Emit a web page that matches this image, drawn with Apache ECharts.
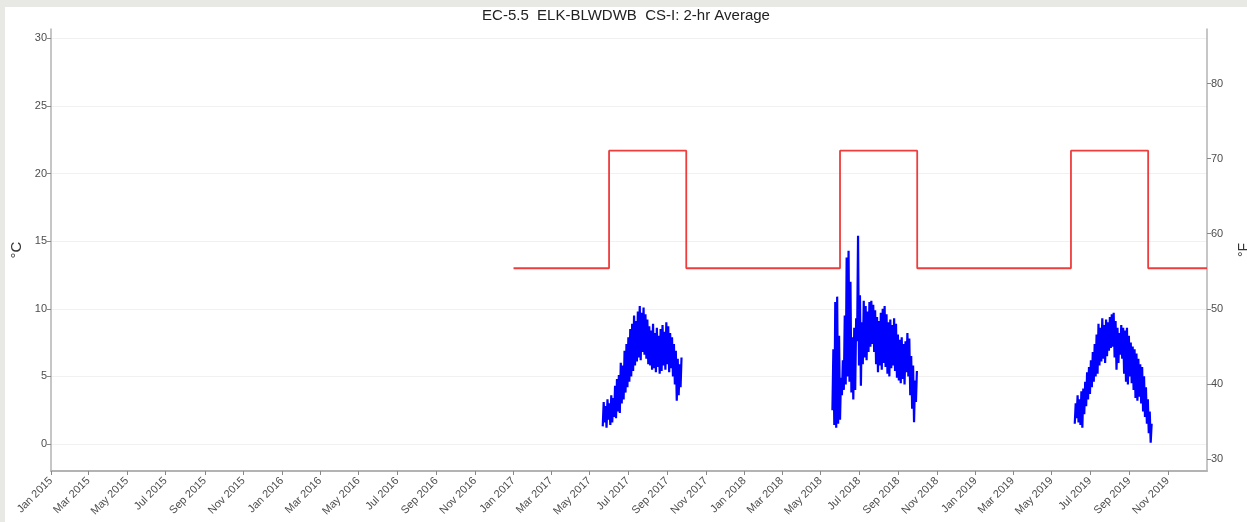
<!DOCTYPE html>
<html>
<head>
<meta charset="utf-8">
<title>EC-5.5 ELK-BLWDWB</title>
<script src="https://cdn.jsdelivr.net/npm/echarts@6.0.0/dist/echarts.min.js"></script>
<style>
  html, body { margin: 0; padding: 0; background: #e8e9e5; }
  #main { position: absolute; left: 5px; top: 7px; width: 1242px; height: 515px; background: #fff; }
</style>
</head>
<body>
<div id="main"></div>
<script>
// x tick labels, every 2 months
const monthTicks = [
  "2015-01-01", "2015-03-01", "2015-05-01", "2015-07-01", "2015-09-01", "2015-11-01",
  "2016-01-01", "2016-03-01", "2016-05-01", "2016-07-01", "2016-09-01", "2016-11-01",
  "2017-01-01", "2017-03-01", "2017-05-01", "2017-07-01", "2017-09-01", "2017-11-01",
  "2018-01-01", "2018-03-01", "2018-05-01", "2018-07-01", "2018-09-01", "2018-11-01",
  "2019-01-01", "2019-03-01", "2019-05-01", "2019-07-01", "2019-09-01", "2019-11-01",
];
const monthNames = ["Jan", "Feb", "Mar", "Apr", "May", "Jun", "Jul", "Aug", "Sep", "Oct", "Nov", "Dec"];
const celsiusTicks = [0, 5, 10, 15, 20, 25, 30];
const fahrenheitTicks = [30, 40, 50, 60, 70, 80];

// criteria (red step line), value holds from each date to the next
const criteriaDates = ["2017-01-01", "2017-06-01", "2017-10-01", "2018-06-01", "2018-10-01", "2019-06-01", "2019-10-01", "2020-01-02"];
const criteriaValues = [13.0, 21.7, 13.0, 21.7, 13.0, 21.7, 13.0, 13.0];

// 2-hr average water temp, low / high envelope read every 3 days
const sampleStepDays = 3;

const start2017 = "2017-05-22";
const lows2017 = [1.3, 1.6, 1.2, 1.8, 1.4, 1.6, 2.0, 1.9, 2.4, 2.3, 3.0, 3.3, 3.8, 4.2, 4.6, 5.0, 5.4, 5.8, 6.1, 6.4, 6.2,
  6.8, 6.6, 6.3, 5.9, 5.8, 5.5, 5.6, 5.3, 5.7, 5.2, 5.4, 5.8, 5.5, 5.9, 5.3, 5.6, 5.0, 4.4, 3.2, 3.6, 4.2];
const highs2017 = [3.1, 2.8, 3.3, 3.0, 3.6, 3.4, 4.3, 4.8, 5.1, 6.0, 5.8, 6.9, 7.4, 7.9, 8.5, 8.9, 9.5, 9.1, 9.8, 10.2, 9.7,
  10.1, 9.6, 9.2, 8.7, 8.4, 8.9, 8.2, 8.6, 8.0, 8.5, 8.8, 8.3, 9.0, 8.7, 8.2, 7.9, 7.4, 6.9, 6.3, 5.9, 6.4];

const start2018 = "2018-05-20";
const lows2018 = [2.5, 1.4, 1.2, 1.5, 1.8, 3.6, 4.0, 4.4, 5.0, 4.6, 3.8, 3.3, 4.0, 7.6, 5.8, 4.3, 5.9, 6.4, 6.2, 6.8, 7.2,
  7.4, 6.8, 5.9, 5.3, 5.8, 5.5, 6.0, 5.7, 5.2, 5.0, 5.6, 5.8, 5.4, 4.9, 4.7, 4.5, 4.8, 4.4, 5.3, 5.0, 3.6, 2.6, 1.6, 3.1];
const highs2018 = [7.0, 10.5, 10.9, 8.0, 4.9, 6.2, 9.5, 13.8, 14.3, 12.0, 7.9, 8.6, 9.3, 15.4, 11.0, 9.0, 10.6, 10.2, 9.8, 10.5, 10.6,
  10.3, 9.9, 9.4, 9.1, 9.7, 10.0, 10.2, 9.6, 9.0, 9.2, 8.8, 9.3, 8.9, 8.1, 7.7, 7.9, 7.4, 7.6, 8.2, 7.8, 6.5, 5.8, 4.7, 5.4];

const start2019 = "2019-06-07";
const lows2019 = [1.5, 1.9, 1.6, 1.4, 1.2, 2.2, 2.8, 3.3, 3.7, 4.2, 4.6, 5.0, 5.2, 5.8, 6.1, 6.3, 6.0, 6.5, 6.9, 7.1, 7.2,
  6.4, 5.5, 6.0, 6.6, 6.3, 5.2, 4.6, 4.4, 5.0, 4.5, 4.0, 3.4, 3.2, 3.5, 3.0, 2.4, 2.0, 1.5, 0.8, 0.1];
const highs2019 = [3.0, 3.6, 3.3, 3.9, 4.1, 4.6, 5.3, 5.7, 6.2, 6.8, 7.4, 8.1, 8.9, 8.6, 9.3, 8.8, 9.2, 9.0, 9.4, 9.6, 9.7,
  9.1, 8.6, 8.2, 8.8, 8.6, 8.4, 8.6, 8.0, 7.5, 7.2, 7.0, 6.7, 6.3, 5.9, 5.7, 5.0, 4.2, 3.3, 2.4, 1.5];

function ts(s) {
  const p = s.split("-").map(Number);
  return new Date(p[0], p[1] - 1, p[2]).getTime();
}

const DAY = 86400000;

// zigzag low -> high so the band fills like the dense 2-hr record
function seasonData(start, lows, highs) {
  const t0 = ts(start);
  const out = [];
  lows.forEach((lo, i) => {
    const t = t0 + i * sampleStepDays * DAY;
    out.push([t, lo]);
    out.push([t + (sampleStepDays / 2) * DAY, highs[i]]);
  });
  return out;
}

const tempSeries = [
  seasonData(start2017, lows2017, highs2017),
  seasonData(start2018, lows2018, highs2018),
  seasonData(start2019, lows2019, highs2019),
].map((d) => ({
  type: "line",
  data: d,
  showSymbol: false,
  animation: false,
  lineStyle: { color: "#0000ff", width: 2.2 },
  z: 3,
}));

const cMin = -2.0, cMax = 30.7;
const font = "Liberation Sans";
const axisGrey = "#b3b3b3";
const labelGrey = "#4d4d4d";

const myChart = echarts.init(document.getElementById("main"));

let option = {
  backgroundColor: "#ffffff",
  animation: false,
  title: {
    text: "EC-5.5  ELK-BLWDWB  CS-I: 2-hr Average",
    left: "center",
    top: 1,
    padding: 0,
    textStyle: { fontFamily: font, fontSize: 15, fontWeight: "normal", color: "#222" },
  },
  grid: {
    left: 46,
    right: 40,
    top: 22,
    bottom: 51,
    containLabel: false,
    outerBoundsMode: "none",
  },
  xAxis: {
    // timestamps on a value axis so the 2-month ticks can be placed exactly
    type: "value",
    min: ts("2015-01-01"),
    max: ts("2020-01-02"),
    axisLine: { onZero: false, lineStyle: { color: axisGrey, width: 2 } },
    axisTick: {
      show: true,
      length: 4,
      lineStyle: { color: "#888" },
      customValues: monthTicks.map(ts),
    },
    axisLabel: {
      rotate: 45,
      margin: 8,
      fontFamily: font,
      fontSize: 11,
      color: labelGrey,
      hideOverlap: false,
      customValues: monthTicks.map(ts),
      formatter: function (v) {
        const d = new Date(v);
        return monthNames[d.getMonth()] + " " + d.getFullYear();
      },
    },
    splitLine: { show: false },
  },
  yAxis: [
    {
      type: "value",
      min: cMin,
      max: cMax,
      name: "°C",
      nameLocation: "middle",
      nameRotate: 90,
      nameGap: 25,
      nameTextStyle: { fontFamily: font, fontSize: 15, color: "#333" },
      axisLine: { show: true, onZero: false, lineStyle: { color: axisGrey, width: 1.5 } },
      axisTick: { show: true, length: 4, lineStyle: { color: "#888" }, customValues: celsiusTicks },
      axisLabel: { fontFamily: font, fontSize: 11, color: labelGrey, margin: 4, customValues: celsiusTicks },
      splitLine: { show: true, lineStyle: { color: "#f1f1f1", width: 1 } },
    },
    {
      type: "value",
      position: "right",
      min: cMin * 1.8 + 32,
      max: cMax * 1.8 + 32,
      name: "°F",
      nameLocation: "middle",
      nameRotate: 90,
      nameGap: 30,
      nameTextStyle: { fontFamily: font, fontSize: 14, color: "#333" },
      axisLine: { show: true, onZero: false, lineStyle: { color: axisGrey, width: 1.5 } },
      axisTick: { show: true, length: 4, lineStyle: { color: "#888" }, customValues: fahrenheitTicks },
      axisLabel: { fontFamily: font, fontSize: 11, color: labelGrey, margin: 4, customValues: fahrenheitTicks },
      splitLine: { show: false },
    },
  ],
  series: [
    {
      type: "line",
      step: "end",
      data: criteriaDates.map((d, i) => [ts(d), criteriaValues[i]]),
      showSymbol: false,
      animation: false,
      lineStyle: { color: "#ee3d3d", width: 1.8 },
      z: 2,
    },
  ].concat(tempSeries),
};

option && myChart.setOption(option);

window.addEventListener("resize", function () {
  myChart.resize();
});
</script>
</body>
</html>
